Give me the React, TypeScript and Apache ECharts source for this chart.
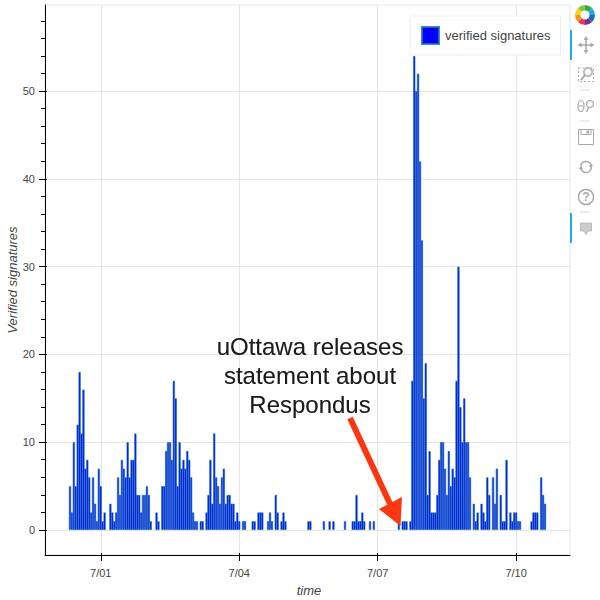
import React, { useEffect, useRef } from "react";
import * as echarts from "echarts";

const firstHour = -29;
const lastHour = 244;
const firstBarHour = -16;
const tickLabels = ["7/01", "7/04", "7/07", "7/10"];
const yMajorTicks = [0, 10, 20, 30, 40, 50];
const yMinorTicks = [0, 2, 4, 6, 8, 10, 12, 14, 16, 18, 20, 22, 24, 26, 28, 30, 32, 34, 36, 38, 40, 42, 44, 46, 48, 50, 52, 54, 56, 58];
const signatures = [
  5, 2, 10, 5, 12, 18, 11, 16, 7, 8,
  6, 2, 6, 3, 1, 7, 5, 1, 2, 0,
  0, 3, 2, 1, 2, 6, 4, 8, 7, 6,
  10, 6, 8, 8, 11, 4, 4, 2, 4, 4,
  5, 4, 1, 0, 0, 2, 1, 0, 5, 5,
  9, 10, 10, 8, 17, 15, 5, 10, 7, 8,
  7, 9, 8, 6, 2, 1, 1, 0, 1, 1,
  0, 2, 4, 8, 3, 11, 6, 5, 3, 6,
  7, 3, 4, 4, 3, 3, 1, 2, 1, 0,
  1, 1, 0, 0, 0, 1, 1, 0, 2, 2,
  2, 0, 0, 1, 2, 1, 0, 4, 2, 0,
  1, 2, 1, 0, 0, 0, 0, 0, 0, 0,
  0, 0, 0, 0, 1, 1, 0, 0, 0, 0,
  0, 0, 1, 0, 0, 1, 0, 1, 0, 0,
  0, 0, 0, 1, 0, 0, 0, 1, 1, 4,
  1, 1, 2, 1, 0, 0, 1, 0, 1, 0,
  0, 0, 0, 0, 0, 0, 0, 0, 0, 0,
  0, 1, 0, 1, 1, 1, 0, 1, 17, 54,
  50, 52, 42, 33, 15, 19, 4, 9, 2, 2,
  2, 4, 8, 10, 10, 7, 4, 9, 5, 7,
  6, 17, 30, 14, 10, 15, 10, 10, 6, 0,
  3, 1, 2, 0, 3, 2, 1, 6, 4, 0,
  6, 3, 7, 0, 4, 1, 1, 8, 0, 2,
  1, 2, 2, 1, 1, 0, 0, 0, 0, 0,
  1, 2, 2, 2, 0, 6, 4, 3,
];

const FONT = "'Liberation Sans', Helvetica, Arial, sans-serif";

const hours: number[] = [];
for (let h = firstHour; h <= lastHour; h++) hours.push(h);
const isMajorHour = (h: number) => h >= 0 && h % 72 === 0;
const categories = hours.map((h) =>
  isMajorHour(h) ? tickLabels[h / 72] : `h${h}`
);
const barData = hours.map((h) => {
  const v = signatures[h - firstBarHour];
  return v ? v : null;
});
const showMajor = (i: number) => isMajorHour(hours[i]);

function toolbarGraphics() {
  const gray = "#a9a9a9";
  const els: any[] = [];
  const line = (x1: number, y1: number, x2: number, y2: number, stroke = gray, lineWidth = 1.5) =>
    els.push({ type: "line", shape: { x1, y1, x2, y2 }, style: { stroke, lineWidth }, z: 50 });
  // logo
  const logo = ["#2fa84f", "#24a9e1", "#1b6fb8", "#7b2d8e", "#e8384f", "#f7941e", "#fcd116", "#8cc63f"];
  logo.forEach((fill, i) => {
    const a = -Math.PI / 2 + (i * Math.PI) / 4;
    els.push({
      type: "sector",
      shape: { cx: 585, cy: 15, r: 10, r0: 4.5, startAngle: a, endAngle: a + Math.PI / 4 },
      style: { fill },
      z: 50,
    });
  });
  // active markers
  els.push({ type: "rect", shape: { x: 570, y: 30, width: 2, height: 30 }, style: { fill: "#26aae1" }, z: 50 });
  els.push({ type: "rect", shape: { x: 570, y: 213, width: 2, height: 30 }, style: { fill: "#26aae1" }, z: 50 });
  // pan
  line(579, 45, 593, 45);
  line(586, 38, 586, 52);
  els.push({ type: "polygon", shape: { points: [[586, 36], [583.5, 40], [588.5, 40]] }, style: { fill: gray }, z: 50 });
  els.push({ type: "polygon", shape: { points: [[586, 54], [583.5, 50], [588.5, 50]] }, style: { fill: gray }, z: 50 });
  els.push({ type: "polygon", shape: { points: [[577.5, 45], [581.5, 42.5], [581.5, 47.5]] }, style: { fill: gray }, z: 50 });
  els.push({ type: "polygon", shape: { points: [[594.5, 45], [590.5, 42.5], [590.5, 47.5]] }, style: { fill: gray }, z: 50 });
  // box zoom
  els.push({ type: "rect", shape: { x: 578.5, y: 68, width: 15, height: 13.5 }, style: { fill: "none", stroke: gray, lineWidth: 1, lineDash: [2, 2] }, z: 50 });
  els.push({ type: "circle", shape: { cx: 588, cy: 72, r: 4.2 }, style: { fill: "#fff", stroke: gray, lineWidth: 1.5 }, z: 51 });
  line(585, 75, 581, 80, gray, 2);
  // wheel zoom
  els.push({ type: "ellipse", shape: { cx: 581, cy: 106, rx: 3, ry: 5.5 }, style: { fill: "none", stroke: gray, lineWidth: 1.2 }, z: 50 });
  line(578.5, 106, 583.5, 106, gray, 1);
  els.push({ type: "circle", shape: { cx: 590, cy: 104, r: 3.5 }, style: { fill: "none", stroke: gray, lineWidth: 1.3 }, z: 50 });
  line(588.5, 107.5, 586.5, 112, gray, 1.5);
  // save
  els.push({ type: "rect", shape: { x: 578.5, y: 129.5, width: 15, height: 15 }, style: { fill: "none", stroke: gray, lineWidth: 1 }, z: 50 });
  els.push({ type: "rect", shape: { x: 581, y: 129.5, width: 10, height: 5 }, style: { fill: "none", stroke: gray, lineWidth: 1 }, z: 50 });
  els.push({ type: "rect", shape: { x: 586.5, y: 130.5, width: 2.5, height: 3 }, style: { fill: gray }, z: 50 });
  // reset
  els.push({ type: "arc", shape: { cx: 586, cy: 167, r: 5.5, startAngle: 0.2, endAngle: 2.8 }, style: { stroke: gray, lineWidth: 1.5, fill: "none" }, z: 50 });
  els.push({ type: "arc", shape: { cx: 586, cy: 167, r: 5.5, startAngle: 3.4, endAngle: 6.0 }, style: { stroke: gray, lineWidth: 1.5, fill: "none" }, z: 50 });
  els.push({ type: "polygon", shape: { points: [[593, 165], [589, 165], [591, 169]] }, style: { fill: gray }, z: 50 });
  els.push({ type: "polygon", shape: { points: [[579, 169], [583, 169], [581, 165]] }, style: { fill: gray }, z: 50 });
  // help
  els.push({ type: "circle", shape: { cx: 586, cy: 197, r: 7.5 }, style: { fill: "none", stroke: gray, lineWidth: 1.5 }, z: 50 });
  els.push({ type: "text", x: 586, y: 197, style: { text: "?", fill: gray, font: `bold 12px ${FONT}`, align: "center", verticalAlign: "middle" }, z: 50 });
  // hover
  els.push({ type: "polygon", shape: { points: [[580.5, 223], [591.5, 223], [591.5, 231], [588, 231], [586, 234.5], [584, 231], [580.5, 231]] }, style: { fill: "#ccc", stroke: "#bbb", lineWidth: 1 }, z: 50 });
  // separators
  [90, 121, 212].forEach((y) => line(580, y, 590, y, "#ddd", 1));
  return els;
}

function annotationGraphics() {
  const red = "#fb3610";
  const lines = ["uOttawa releases", "statement about", "Respondus"];
  const ys = [346, 375, 404];
  const out: any[] = lines.map((text, i) => ({
    type: "text",
    x: 310,
    y: ys[i],
    z: 60,
    style: {
      text,
      fill: "#1a1a1a",
      font: `24px ${FONT}`,
      align: "center",
      verticalAlign: "middle",
      textShadowColor: "rgba(0,0,0,0.3)",
      textShadowBlur: 1.5,
    },
  }));
  out.push({ type: "line", shape: { x1: 350, y1: 418, x2: 391, y2: 506 }, style: { stroke: red, lineWidth: 6 }, z: 60 });
  out.push({ type: "polygon", shape: { points: [[379, 509], [402, 497], [400.5, 526]] }, style: { fill: red }, z: 60 });
  return out;
}

export default function App() {
  const ref = useRef<HTMLDivElement>(null);
  useEffect(() => {
    const chart = echarts.init(ref.current!, undefined, { renderer: "svg" });
    const yExtent = { min: -2.85, max: 59.8 };
    const xShared = { type: "category", data: categories, boundaryGap: false };
    chart.setOption({
      animation: false,
      textStyle: { fontFamily: FONT },
      grid: {
        left: 45,
        right: 30,
        top: 5,
        bottom: 45,
        show: true,
        borderColor: "#e5e5e5",
        borderWidth: 1,
        containLabel: false,
        outerBoundsMode: "none",
      },
      legend: {
        show: true,
        left: 410,
        top: 16,
        orient: "vertical",
        data: ["verified signatures"],
        icon: "rect",
        itemWidth: 17,
        itemHeight: 17,
        padding: [10, 10, 10, 11],
        itemGap: 0,
        backgroundColor: "#ffffff",
        borderColor: "#eeeeee",
        borderWidth: 1,
        textStyle: { fontSize: 13, color: "#444444", fontFamily: FONT, padding: [0, 0, 0, 1] },
        z: 20,
      },
      xAxis: [
        {
          ...xShared,
          name: "time",
          nameLocation: "middle",
          nameGap: 29,
          nameMoveOverlap: false,
          nameTextStyle: { fontStyle: "italic", fontSize: 13, color: "#444444", fontFamily: FONT, padding: [0, 0, 0, 3] },
          axisLine: { show: true, onZero: false, lineStyle: { color: "#000000", width: 1 } },
          axisTick: { show: true, alignWithLabel: true, interval: showMajor, length: 6, lineStyle: { color: "#000000" } },
          axisLabel: {
            show: true,
            interval: showMajor,
            hideOverlap: false,
            fontSize: 11,
            color: "#444444",
            margin: 12,
            fontFamily: FONT,
          },
          splitLine: { show: true, interval: showMajor, lineStyle: { color: "#e5e5e5", width: 1 } },
        },
        {
          ...xShared,
          position: "bottom",
          axisLine: { show: false, onZero: false },
          axisTick: { show: true, inside: true, alignWithLabel: true, interval: showMajor, length: 2, lineStyle: { color: "#000000" } },
          axisLabel: { show: false },
          splitLine: { show: false },
        },
      ],
      yAxis: [
        {
          type: "value",
          ...yExtent,
          name: "Verified signatures",
          nameLocation: "middle",
          nameGap: 26,
          nameMoveOverlap: false,
          nameTextStyle: { fontStyle: "italic", fontSize: 13, color: "#444444", fontFamily: FONT },
          axisLine: { show: true, onZero: false, lineStyle: { color: "#000000", width: 1 } },
          axisTick: { show: true, customValues: yMajorTicks, length: 6, lineStyle: { color: "#000000" } },
          axisLabel: { show: true, customValues: yMajorTicks, fontSize: 11, color: "#444444", margin: 10, fontFamily: FONT },
          splitLine: { show: true, lineStyle: { color: "#e5e5e5", width: 1 } },
        },
        {
          type: "value",
          ...yExtent,
          position: "left",
          axisLine: { show: false, onZero: false },
          axisTick: { show: true, customValues: yMinorTicks, length: 4, lineStyle: { color: "#000000" } },
          axisLabel: { show: false },
          splitLine: { show: false },
        },
        {
          type: "value",
          ...yExtent,
          position: "left",
          axisLine: { show: false, onZero: false },
          axisTick: { show: true, inside: true, customValues: yMajorTicks, length: 2, lineStyle: { color: "#000000" } },
          axisLabel: { show: false },
          splitLine: { show: false },
        },
      ],
      series: [
        {
          name: "verified signatures",
          type: "bar",
          data: barData,
          barWidth: 2.3,
          itemStyle: { color: "#0000ff", borderColor: "rgba(31,119,180,0.85)", borderWidth: 0.8 },
          legendHoverLink: false,
          silent: true,
        },
      ],
      graphic: { elements: [...annotationGraphics(), ...toolbarGraphics()] },
    });
    return () => chart.dispose();
  }, []);
  return <div ref={ref} style={{ position: "absolute", left: 0, top: 0, width: 600, height: 600, background: "#fff" }} />;
}
